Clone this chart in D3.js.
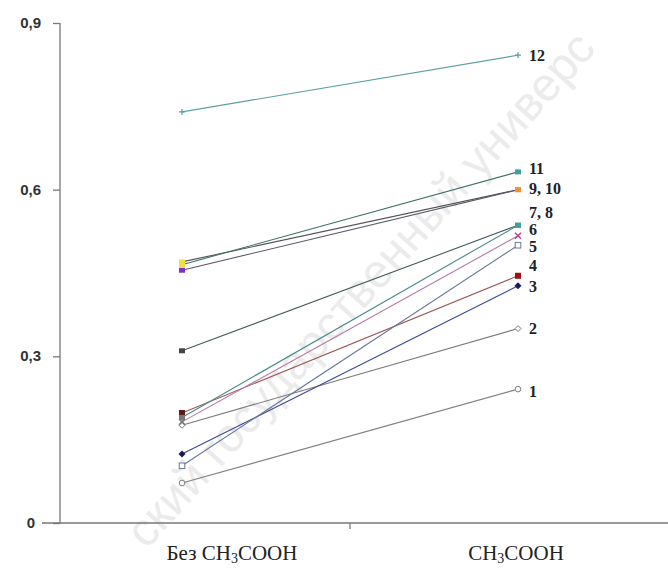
<!DOCTYPE html>
<html><head><meta charset="utf-8">
<script src="https://cdn.jsdelivr.net/npm/d3@7"></script>
<style>body{margin:0;background:#fff}svg{display:block}</style>
</head><body>
<svg id="c" width="668" height="570"></svg>
<script>
const categories = ["Без CH3COOH", "CH3COOH"];
const labels = ["1", "2", "3", "4", "5", "6", "7", "8", "9", "10", "11", "12"];
const before = [0.072, 0.176, 0.124, 0.198, 0.103, 0.182, 0.31, 0.19, 0.47, 0.455, 0.465, 0.740];
const after  = [0.241, 0.350, 0.427, 0.445, 0.500, 0.517, 0.536, 0.536, 0.600, 0.600, 0.632, 0.842];
const colors = ["#808080", "#7a7a7a", "#3a4a90", "#9a5555", "#6a7896", "#b07aa8", "#4a5a5a", "#4a8a8a", "#555555", "#5a5a6a", "#3f6f6a", "#5aa0a0"];
const markers = ["circleOpen", "diamondOpen", "diamond", "square", "squareOpen", "cross", "dash", "dash", "dash", "dash", "dash", "plus"];
const leftFill = ["#fff", "#fff", "#1a1a50", "#5a1a1a", "#fff", "#777", "#444", "#777", "#f0e040", "#8030d0", "#f0e040", "#777"];
const rightFill = ["#fff", "#fff", "#1a1a60", "#a01010", "#fff", "#c04090", "#40a0a0", "#40a0a0", "#f09030", "#f09030", "#40a0a0", "#40a0a0"];
const yTicks = [0, 0.3, 0.6, 0.9];
const yTickLabels = ["0", "0,3", "0,6", "0,9"];
const endLabels = [{t:"1", v:0.235}, {t:"2", v:0.35}, {t:"3", v:0.425}, {t:"4", v:0.462}, {t:"5", v:0.497}, {t:"6", v:0.527}, {t:"7, 8", v:0.558}, {t:"9, 10", v:0.601}, {t:"11", v:0.637}, {t:"12", v:0.84}];

const svg = d3.select("#c");
const y = d3.scaleLinear().domain([0, 0.9]).range([523, 23]);
const x = d3.scalePoint().domain(categories).range([182, 518]);

// watermark
svg.append("text")
  .attr("transform", "translate(372,300) rotate(-48)")
  .attr("text-anchor", "middle")
  .attr("font-family", "Liberation Sans, Arial, sans-serif")
  .attr("font-size", 47)
  .attr("fill", "#ebebeb")
  .text("ский государственный универс");

// axes
const yAxis = d3.axisLeft(y).tickValues(yTicks).tickSize(7).tickFormat("");
const gy = svg.append("g").attr("transform", "translate(60,0)").call(yAxis);
gy.selectAll("path, line").attr("stroke", "#777").attr("stroke-width", 1.3);
gy.select(".domain").attr("d", "M0,23V523");

svg.append("line").attr("x1", 42).attr("x2", 668).attr("y1", 523).attr("y2", 523)
  .attr("stroke", "#777").attr("stroke-width", 1.4);
svg.append("line").attr("x1", (x(categories[0]) + x(categories[1])) / 2)
  .attr("x2", (x(categories[0]) + x(categories[1])) / 2)
  .attr("y1", 523).attr("y2", 529).attr("stroke", "#777").attr("stroke-width", 1.2);

svg.selectAll(".ytl").data(yTicks).join("text")
  .attr("x", (d, i) => i === 0 ? 35 : 41).attr("y", d => y(d) + 5)
  .attr("text-anchor", "end")
  .attr("font-family", "Liberation Sans, Arial, sans-serif")
  .attr("font-weight", "bold").attr("font-size", 15).attr("fill", "#333")
  .text((d, i) => yTickLabels[i]);

// category labels
const catX = [232, 516];
categories.forEach((c, i) => {
  const t = svg.append("text").attr("x", catX[i]).attr("y", 560)
    .attr("text-anchor", "middle")
    .attr("font-family", "Liberation Serif, Times New Roman, serif")
    .attr("font-size", 21).attr("fill", "#222");
  const pre = c.replace("CH3COOH", "");
  t.append("tspan").text(pre + "CH");
  t.append("tspan").attr("font-size", 14).attr("dy", 3).text("3");
  t.append("tspan").attr("dy", -3).text("COOH");
});

// lines
const idx = d3.range(before.length);
svg.selectAll(".ln").data(idx).join("line")
  .attr("x1", x(categories[0])).attr("x2", x(categories[1]))
  .attr("y1", i => y(before[i])).attr("y2", i => y(after[i]))
  .attr("stroke", i => colors[i]).attr("stroke-width", 1.1);

function drawMarker(cx, cy, type, fill, stroke) {
  const g = svg.append("g").attr("transform", `translate(${cx},${cy})`);
  if (type === "circleOpen") g.append("circle").attr("r", 2.8).attr("fill", "#fff").attr("stroke", stroke);
  else if (type === "diamondOpen") g.append("path").attr("d", "M0,-3L3,0L0,3L-3,0Z").attr("fill", "#fff").attr("stroke", stroke);
  else if (type === "diamond") g.append("path").attr("d", "M0,-3.5L3.5,0L0,3.5L-3.5,0Z").attr("fill", fill);
  else if (type === "square") g.append("rect").attr("x", -3).attr("y", -3).attr("width", 6).attr("height", 6).attr("fill", fill);
  else if (type === "squareOpen") g.append("rect").attr("x", -2.8).attr("y", -2.8).attr("width", 5.6).attr("height", 5.6).attr("fill", "#fff").attr("stroke", stroke);
  else if (type === "cross") g.append("path").attr("d", "M-3,-3L3,3M-3,3L3,-3").attr("stroke", fill).attr("stroke-width", 1.5);
  else if (type === "plus") g.append("path").attr("d", "M-3,0H3M0,-3V3").attr("stroke", stroke).attr("stroke-width", 1.2);
  else g.append("rect").attr("x", -3).attr("y", -2.5).attr("width", 6).attr("height", 5).attr("fill", fill);
}
idx.forEach(i => {
  drawMarker(x(categories[0]), y(before[i]), markers[i], leftFill[i], colors[i]);
  drawMarker(x(categories[1]), y(after[i]), markers[i], rightFill[i], colors[i]);
});

// end labels
svg.selectAll(".el").data(endLabels).join("text")
  .attr("x", 529).attr("y", d => y(d.v) + 5)
  .attr("font-family", "Liberation Serif, Times New Roman, serif")
  .attr("font-weight", "bold").attr("font-size", 16).attr("fill", "#222")
  .text(d => d.t);
</script>
</body></html>
